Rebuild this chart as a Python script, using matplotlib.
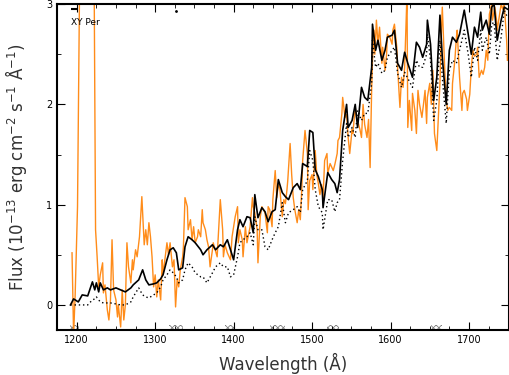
import numpy as np
import matplotlib
matplotlib.use('Agg')
import matplotlib.pyplot as plt
from matplotlib.patches import Rectangle
from matplotlib.ticker import MultipleLocator

# model spectrum (solid)
model_wl = [1192, 1196, 1202, 1207, 1214, 1220, 1223, 1225, 1228, 1230, 1234, 1239, 1243,
            1250, 1256, 1262, 1269, 1272, 1279, 1284, 1288, 1292, 1298, 1302, 1307, 1310,
            1315, 1319, 1323, 1327, 1330, 1335, 1338, 1342, 1347, 1351, 1358, 1361, 1366,
            1373, 1377, 1383, 1387, 1392, 1396, 1400, 1405, 1408, 1412, 1417, 1421, 1425,
            1427, 1431, 1436, 1440, 1444, 1449, 1453, 1457, 1462, 1466, 1470, 1476, 1481,
            1485, 1488, 1494, 1497, 1501, 1504, 1508, 1513, 1514, 1520, 1525, 1529, 1532,
            1535, 1539, 1544, 1546, 1551, 1555, 1558, 1563, 1567, 1571, 1576, 1577, 1581,
            1584, 1589, 1593, 1596, 1602, 1605, 1609, 1614, 1618, 1622, 1628, 1633, 1637,
            1641, 1646, 1647, 1651, 1655, 1659, 1663, 1666, 1671, 1675, 1679, 1684, 1688,
            1694, 1699, 1703, 1707, 1711, 1715, 1717, 1722, 1726, 1729, 1732, 1736, 1741,
            1745, 1749]
model_flux = [0.00, 0.06, 0.03, 0.10, 0.09, 0.23, 0.15, 0.22, 0.13, 0.22, 0.15, 0.17, 0.15,
              0.17, 0.15, 0.13, 0.17, 0.20, 0.25, 0.35, 0.25, 0.20, 0.21, 0.22, 0.26, 0.30,
              0.45, 0.55, 0.57, 0.52, 0.35, 0.37, 0.58, 0.68, 0.65, 0.62, 0.55, 0.50, 0.55,
              0.60, 0.55, 0.60, 0.58, 0.65, 0.55, 0.45, 0.75, 0.85, 0.78, 0.88, 0.87, 0.72,
              1.10, 0.87, 0.97, 0.93, 0.83, 0.93, 0.95, 1.25, 1.12, 1.08, 1.05, 1.17, 1.21,
              1.15, 1.41, 1.38, 1.74, 1.72, 1.35, 1.28, 1.15, 0.97, 1.32, 1.25, 1.21, 1.12,
              1.25, 1.74, 2.00, 1.77, 1.84, 2.00, 1.77, 2.17, 2.07, 2.04, 2.37, 2.80, 2.54,
              2.64, 2.44, 2.54, 2.67, 2.69, 2.74, 2.41, 2.34, 2.52, 2.41, 2.27, 2.62, 2.57,
              2.47, 2.60, 2.84, 2.60, 2.04, 2.27, 2.89, 2.47, 2.00, 2.54, 2.67, 2.62, 2.70,
              2.94, 2.70, 2.50, 2.77, 2.67, 2.92, 2.74, 2.84, 2.70, 2.97, 3.00, 2.64, 2.84,
              2.97, 2.95]
# second model (dotted), same wavelength grid
model2_flux = [0.00, 0.00, 0.00, 0.00, 0.00, 0.05, 0.06, 0.08, 0.05, 0.03, 0.02, 0.02, 0.02,
               0.01, 0.00, 0.00, 0.03, 0.08, 0.17, 0.10, 0.08, 0.07, 0.10, 0.12, 0.18, 0.25,
               0.30, 0.35, 0.32, 0.28, 0.22, 0.25, 0.35, 0.42, 0.38, 0.32, 0.28, 0.28, 0.22,
               0.32, 0.38, 0.42, 0.38, 0.38, 0.28, 0.30, 0.48, 0.62, 0.65, 0.68, 0.72, 0.60,
               0.88, 0.75, 0.75, 0.58, 0.55, 0.65, 0.72, 0.78, 1.02, 0.82, 0.92, 0.95, 0.98,
               0.92, 1.15, 1.24, 1.54, 1.44, 1.15, 0.98, 0.92, 0.75, 1.05, 1.05, 0.93, 1.02,
               1.05, 1.44, 1.81, 1.67, 1.77, 1.67, 1.94, 1.84, 1.91, 1.91, 2.21, 2.64, 2.37,
               2.41, 2.31, 2.34, 2.47, 2.54, 2.57, 2.31, 2.17, 2.32, 2.26, 2.17, 2.44, 2.37,
               2.37, 2.50, 2.70, 2.44, 1.84, 2.04, 2.64, 2.27, 1.81, 2.34, 2.44, 2.41, 2.54,
               2.74, 2.50, 2.27, 2.57, 2.44, 2.74, 2.54, 2.67, 2.50, 2.80, 2.82, 2.44, 2.67,
               2.94, 2.87]

# observed spectrum
obs_wl = [1194, 1196, 1198, 1201, 1204, 1211, 1222, 1224, 1226, 1228, 1230, 1233, 1234,
          1236, 1239, 1241, 1243, 1245, 1247, 1250, 1252, 1253, 1256, 1258, 1260, 1262,
          1264, 1266, 1269, 1271, 1272, 1275, 1277, 1280, 1283, 1286, 1288, 1290, 1292,
          1294, 1296, 1298, 1300, 1302, 1304, 1307, 1309, 1310, 1315, 1317, 1319, 1322,
          1324, 1326, 1328, 1330, 1332, 1335, 1336, 1338, 1341, 1342, 1345, 1347, 1349,
          1351, 1354, 1355, 1358, 1360, 1361, 1364, 1366, 1368, 1370, 1373, 1374, 1379,
          1383, 1386, 1387, 1389, 1392, 1396, 1398, 1400, 1402, 1405, 1406, 1408, 1411,
          1412, 1415, 1417, 1421, 1424, 1425, 1427, 1430, 1431, 1434, 1436, 1440, 1443,
          1444, 1446, 1449, 1450, 1453, 1455, 1457, 1459, 1462, 1464, 1466, 1468, 1469,
          1472, 1474, 1476, 1478, 1481, 1483, 1485, 1487, 1488, 1491, 1494, 1495, 1497,
          1500, 1501, 1504, 1506, 1508, 1510, 1512, 1514, 1516, 1519, 1520, 1523, 1527,
          1529, 1532, 1533, 1535, 1538, 1539, 1542, 1544, 1546, 1548, 1551, 1552, 1555,
          1557, 1558, 1561, 1563, 1565, 1567, 1570, 1572, 1574, 1576, 1577, 1579, 1580,
          1582, 1584, 1586, 1589, 1590, 1593, 1595, 1596, 1599, 1602, 1603, 1605, 1608,
          1609, 1612, 1614, 1616, 1618, 1621, 1622, 1624, 1627, 1628, 1631, 1633, 1635,
          1637, 1640, 1642, 1644, 1646, 1647, 1650, 1652, 1654, 1656, 1659, 1660, 1663,
          1665, 1666, 1669, 1671, 1673, 1675, 1678, 1679, 1682, 1684, 1685, 1688, 1691,
          1692, 1694, 1697, 1698, 1701, 1703, 1705, 1707, 1710, 1711, 1713, 1716, 1718,
          1720, 1722, 1724, 1726, 1729, 1730, 1733, 1735, 1736, 1739, 1741, 1743, 1745,
          1748, 1749]
obs_flux = [0.52, -0.30, 0.10, 0.98, 3.50, 4.00, 3.50, 0.75, 0.48, 0.18, 0.30, 0.42, 0.12,
            0.20, -0.05, -0.15, 0.05, 0.65, 0.15, 0.05, -0.12, 0.00, -0.22, 0.15, -0.15, 0.00,
            0.62, 0.38, 0.22, 0.45, 0.35, 0.55, 0.48, 0.68, 1.08, 0.60, 0.75, 0.60, 0.82,
            0.68, 0.48, 0.18, 0.30, 0.08, 0.25, 0.05, 0.45, 0.30, 0.62, 0.50, 0.62, 0.38,
            0.45, -0.02, 0.25, 0.18, 0.35, 0.48, 0.58, 1.07, 0.98, 0.75, 0.85, 0.65, 0.78,
            0.62, 0.68, 0.75, 0.68, 0.95, 0.82, 0.75, 0.65, 0.58, 0.38, 0.55, 0.62, 0.48,
            1.05, 0.75, 0.48, 0.60, 0.52, 0.45, 0.68, 0.78, 0.88, 0.98, 0.62, 0.75, 0.65,
            0.48, 0.78, 0.62, 0.78, 1.07, 0.98, 0.92, 0.75, 0.42, 0.88, 0.98, 0.92, 0.72,
            0.98, 0.95, 0.78, 1.05, 1.34, 1.07, 1.21, 1.15, 0.88, 1.05, 1.01, 1.15, 1.24,
            1.61, 1.30, 1.07, 0.95, 0.82, 0.95, 0.85, 1.18, 1.44, 1.74, 1.51, 0.95, 1.24,
            1.30, 1.15, 1.54, 1.30, 1.21, 1.10, 1.20, 1.07, 1.44, 1.51, 1.31, 1.41, 1.34,
            1.40, 1.51, 1.64, 1.67, 1.91, 2.07, 1.87, 1.90, 1.67, 1.51, 1.75, 1.71, 1.97,
            1.85, 1.84, 1.75, 1.67, 2.00, 1.80, 1.67, 1.85, 1.37, 2.17, 2.44, 2.74, 2.50,
            2.84, 2.60, 2.77, 2.41, 2.57, 2.34, 2.50, 2.70, 2.67, 2.60, 2.74, 2.80, 2.57,
            2.37, 1.97, 2.27, 2.17, 2.37, 3.10, 1.77, 2.04, 1.74, 2.11, 1.94, 1.71, 2.14,
            2.00, 1.87, 2.00, 2.14, 1.81, 2.07, 2.21, 2.00, 2.34, 1.71, 1.54, 1.71, 2.21,
            2.77, 2.97, 2.37, 2.04, 1.94, 1.97, 1.94, 2.21, 2.44, 2.67, 2.74, 2.27, 1.94,
            2.11, 2.14, 2.05, 1.94, 2.10, 2.37, 2.54, 2.48, 2.50, 2.57, 2.27, 2.34, 2.30,
            2.37, 2.54, 2.44, 2.90, 3.00, 2.84, 2.97, 2.85, 2.74, 2.90, 3.00, 2.95, 3.00,
            2.64, 2.44]

# masked regions along the bottom
mask_start = [1192, 1317, 1389, 1447, 1519, 1651]
mask_end = [1203, 1336, 1400, 1466, 1534, 1666]

plt.rcParams['hatch.linewidth'] = 0.6

fig = plt.figure(figsize=(5.1, 3.75), dpi=100)
ax = fig.add_axes([0.112, 0.12, 0.886, 0.869])

ax.plot(obs_wl, obs_flux, color='#ff8c1a', lw=1.0, zorder=2)
ax.plot(model_wl, model2_flux, color='black', lw=1.0, ls=(0, (1, 2)), zorder=3)
ax.plot(model_wl, model_flux, color='black', lw=1.2, zorder=4)

for s, e in zip(mask_start, mask_end):
    ax.add_patch(Rectangle((s, -0.245), e - s, 0.045, facecolor='none',
                           edgecolor='0.5', lw=0, hatch='xxxxxx', zorder=1))

ax.plot([1196], [2.955], marker='_', color='black', ms=5, mew=1.5)
ax.plot([1326], [2.93], marker='.', color='black', ms=2)
ax.text(1193, 2.82, 'XY Per', fontsize=6.5, va='center')

ax.set_xlim(1175, 1751)
ax.set_ylim(-0.25, 3)
ax.xaxis.set_major_locator(MultipleLocator(100))
ax.xaxis.set_minor_locator(MultipleLocator(25))
ax.yaxis.set_major_locator(MultipleLocator(1))
ax.yaxis.set_minor_locator(MultipleLocator(0.5))
ax.tick_params(which='both', direction='in', top=True, right=True, labelsize=7)
ax.tick_params(which='major', length=6)
ax.tick_params(which='minor', length=3)
for sp in ax.spines.values():
    sp.set_linewidth(1.5)

ax.set_xlabel('Wavelength (Å)', fontsize=12, color='0.2', labelpad=6)
ax.set_ylabel(r'Flux (10$^{-13}$ erg cm$^{-2}$ s$^{-1}$ Å$^{-1}$)', fontsize=12,
              color='0.2', labelpad=12)

fig.savefig('out.png', dpi=100)
